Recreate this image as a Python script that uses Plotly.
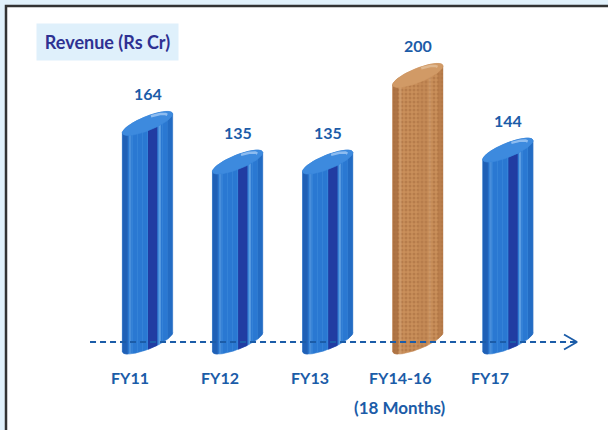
import numpy as np
import plotly.graph_objects as go

# ---------------- data ----------------
categories = ["FY11", "FY12", "FY13", "FY14-16", "FY17"]
sublabels = ["", "", "", "(18 Months)", ""]
revenue = [164, 135, 135, 200, 144]
is_special = [False, False, False, True, False]
title_text = "Revenue (Rs Cr)"

# ---------------- geometry / style ----------------
W, H = 608, 430
X_RANGE = [-1.443, 5.305]
Y_RANGE = [-66.0, 256.6]
PXX = W / (X_RANGE[1] - X_RANGE[0])   # px per x unit
PXY = H / (Y_RANGE[1] - Y_RANGE[0])   # px per y unit
BAR_SHIFT = 17.5 / PXX                # perspective offset of cylinders vs labels
A, B, TH = 27.0, 7.0, np.radians(22)  # tilted ellipse of the cylinder ends (px)
AXIS_X0 = (90 - 130) / PXX
AXIS_X1 = (577 - 130) / PXX
TXT_BLUE = "#1b5ca8"

BLUE = dict(body="#2a78d2", shade="#1c58ad", stripe="#2139a0", streak="#80b9ef",
            right="#2065bb", cap="#3d8ade", rim="#cfe6ff", pat="#3d8cdc")
CORK = dict(body="#c98f5a", shade="#a86d3e", stripe="#bb8150", streak="#ddb287",
            right="#b27645", cap="#d19a66", rim="#ecd0b0", pat="#a46a3c")


def ellipse(cx, cy, t, scale=1.0):
    ex = scale * (A * np.cos(TH) * np.cos(t) - B * np.sin(TH) * np.sin(t))
    ey = scale * (A * np.sin(TH) * np.cos(t) + B * np.cos(TH) * np.sin(t))
    return cx + ex / PXX, cy + ey / PXY


t0 = np.arctan(-(B * np.tan(TH)) / A)
T_UP = np.linspace(t0, t0 + np.pi, 60)
T_LO = np.linspace(t0 + np.pi, t0 + 2 * np.pi, 60)
T_FULL = np.linspace(0, 2 * np.pi, 121)

fig = go.Figure()


def poly(xs, ys, color, pattern=None, opacity=1.0):
    kw = {}
    if pattern is not None:
        kw["fillpattern"] = pattern
    fig.add_trace(go.Scatter(x=list(xs), y=list(ys), mode="lines", fill="toself",
                             fillcolor=color, line=dict(width=0.6, color=color),
                             opacity=opacity, hoverinfo="skip", showlegend=False, **kw))


for i, v in enumerate(revenue):
    cx = i + BAR_SHIFT
    pal = CORK if is_special[i] else BLUE
    xt, yt = ellipse(cx, v, T_UP)
    xb, yb = ellipse(cx, 0, T_LO)
    xcl, ycl = ellipse(cx, v, T_LO)  # lower arc of the top cap

    if is_special[i]:
        pat = dict(shape=".", fgcolor=pal["pat"], bgcolor=pal["body"], size=4, solidity=0.45)
    else:
        pat = dict(shape="|", fgcolor=pal["pat"], bgcolor=pal["body"], size=5, solidity=0.2)
    poly(np.r_[xt, xb], np.r_[yt, yb], pal["body"], pattern=pat)

    def strip(u0, u1, color, opacity):
        xs = cx + np.linspace(u0, u1, 8) / PXX
        ybot = np.interp(xs, xb, yb)
        ytop = np.interp(xs, xcl, ycl)
        poly(np.r_[xs, xs[::-1]], np.r_[ybot, ytop[::-1]], color, opacity=opacity)

    strip(-25.2, -20.0, pal["shade"], 0.75)
    strip(-18.5, -16.5, pal["streak"], 0.35)
    if is_special[i]:
        strip(0.5, 9.5, pal["stripe"], 0.35)
        strip(11.0, 13.0, pal["streak"], 0.35)
    else:
        strip(0.5, 9.5, pal["stripe"], 0.95)
        strip(11.0, 13.0, pal["streak"], 0.6)
    strip(20.0, 25.2, pal["right"], 0.6)

    # top cap
    xc, yc = ellipse(cx, v, T_FULL)
    poly(xc, yc, pal["cap"], opacity=1.0)
    xh, yh = ellipse(cx, v, np.linspace(t0 + 0.2, t0 + 1.4, 20), scale=0.8)
    fig.add_trace(go.Scatter(x=xh, y=yh, mode="lines", line=dict(color=pal["rim"], width=2.5),
                             opacity=0.55, hoverinfo="skip", showlegend=False))

# dashed axis with arrow
fig.add_trace(go.Scatter(x=[AXIS_X0, AXIS_X1], y=[0, 0], mode="lines",
                         line=dict(color=TXT_BLUE, width=2, dash="6px,4px"),
                         hoverinfo="skip", showlegend=False))
fig.add_trace(go.Scatter(x=[AXIS_X1 - 13 / PXX, AXIS_X1, AXIS_X1 - 13 / PXX],
                         y=[7.5 / PXY, 0, -7.5 / PXY], mode="lines",
                         line=dict(color=TXT_BLUE, width=1.8),
                         hoverinfo="skip", showlegend=False))

annotations = []
for i, v in enumerate(revenue):
    annotations.append(dict(x=i + BAR_SHIFT, y=v, xref="x", yref="y", text=f"<b>{v}</b>",
                            showarrow=False, yshift=30, yanchor="middle",
                            font=dict(family="Lato", size=16, color=TXT_BLUE)))
    annotations.append(dict(x=i, y=0, xref="x", yref="y", text=f"<b>{categories[i]}</b>",
                            showarrow=False, yshift=-35, yanchor="middle",
                            font=dict(family="Lato", size=16, color=TXT_BLUE)))
    if sublabels[i]:
        annotations.append(dict(x=i, y=0, xref="x", yref="y", text=f"<b>{sublabels[i]}</b>",
                                showarrow=False, yshift=-65, yanchor="middle",
                                font=dict(family="Lato", size=17, color=TXT_BLUE)))

annotations.append(dict(x=36 / W, y=1 - 23 / H, xref="paper", yref="paper",
                        xanchor="left", yanchor="top", text=f"<b>{title_text}</b>",
                        showarrow=False, width=139, height=34, bgcolor="#dff0fb",
                        font=dict(family="Lato", size=18, color="#2e3192")))

fig.update_layout(
    width=W, height=H,
    margin=dict(l=0, r=0, t=0, b=0),
    paper_bgcolor="#e1f1fb",
    plot_bgcolor="rgba(0,0,0,0)",
    xaxis=dict(range=X_RANGE, visible=False, fixedrange=True),
    yaxis=dict(range=Y_RANGE, visible=False, fixedrange=True),
    shapes=[dict(type="rect", xref="paper", yref="paper", x0=6 / W, x1=1.05,
                 y0=-0.05, y1=1 - 6 / H, fillcolor="white",
                 line=dict(color="#333333", width=2.5), layer="below")],
    annotations=annotations,
    showlegend=False,
)

fig.write_html("out.html", config={"displayModeBar": False},
               post_script="document.body.style.margin='0';")
